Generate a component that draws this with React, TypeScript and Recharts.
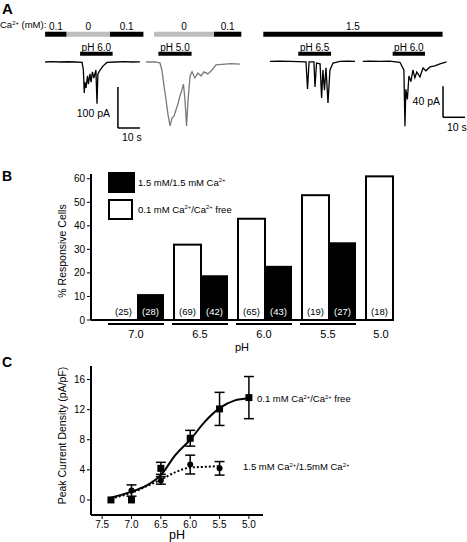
import React from "react"
import {
  LineChart,
  Line,
  XAxis,
  YAxis,
  ReferenceArea,
  ReferenceLine,
  BarChart,
  Bar,
  Legend,
  ComposedChart,
  Scatter,
  ErrorBar,
} from "recharts"

const FONT = '"Liberation Sans", Arial, sans-serif'

// ---------- A: example currents (time in s, current in pA) ----------
const traceLowCa60 = [
  [20.5, 0], [24, 0.8], [27.3, 0], [31, 0.6], [34.1, 0], [37.3, -1], [37.9, -19.5], [38.3, -75.6],
  [38.6, -48.8], [39.1, -63], [39.8, -34], [40.2, -54], [40.9, -29], [41.4, -49], [42.0, -24],
  [42.7, -39], [43.6, -19.5], [44.1, -102], [44.5, -29], [45.5, -19.5], [46.8, -10], [48.6, -1],
  [52.3, 0], [56.8, 0.8], [60, 0], [63.6, 0.5],
]
const traceLowCa50 = [
  [66.4, 0], [70.5, 0.5], [72.7, -2], [73.6, -19.5], [74.5, -56], [75.5, -93], [76.4, -129],
  [77.3, -156], [78.2, -137], [79.1, -132], [80, -117], [80.9, -102], [81.8, -83], [82.7, -68],
  [83.4, -54], [84.1, -93], [84.8, -156], [85.5, -93], [86.4, -34], [87.3, -24], [88.6, -39],
  [90, -27], [91.4, -34], [92.7, -24], [94.5, -29], [96.4, -19.5], [98.2, -7], [102.3, -5],
  [105, -4], [109.1, -5],
]
const traceCa65 = [
  [122.7, 0], [127, 0.5], [131.8, 0], [139.1, -0.5], [139.8, -35.5], [140.5, -0.6], [142.7, -0.6],
  [143.2, -33], [143.9, -2], [145.5, -3], [146.2, -47], [146.8, -11], [147.5, -37], [148.2, -8],
  [149.1, -53.5], [150, -11], [151.4, -2], [154.5, 0], [158, 0.5], [161.4, 0],
]
const traceCa60 = [
  [164.9, 0], [168, 0.5], [172.7, 0], [177, 0.4], [181.8, -1], [183.6, -11], [184.1, -83.5],
  [184.5, -36], [185.2, -49], [185.9, -18.7], [186.8, -26], [187.7, -11], [188.6, -21],
  [189.5, -13.5], [190.9, -20], [192.3, -8.4], [193.6, -12], [195.5, -7], [197.7, -5.8],
  [200, -3.2], [203, -0.6],
]
const caSteps = [
  { from: 20.5, to: 30.3, level: 0.1 },
  { from: 30.3, to: 50, level: 0 },
  { from: 50, to: 65.2, level: 0.1 },
  { from: 70, to: 97.3, level: 0 },
  { from: 97.3, to: 109.7, level: 0.1 },
  { from: 119.7, to: 201.2, level: 1.5 },
]
const phPulses = [
  { from: 36.4, to: 51.2, ph: 6.0 },
  { from: 72, to: 87.1, ph: 5.0 },
  { from: 135.6, to: 150.5, ph: 6.5 },
  { from: 178.5, to: 193.2, ph: 6.0 },
]

// ---------- B: % responsive cells ----------
const phGroups = ["7.0", "6.5", "6.0", "5.5", "5.0"]
const pctFree = [0, 32, 43, 53, 61]
const pctCa = [11, 19, 23, 33, null]
const nFree = [25, 69, 65, 19, 18]
const nCa = [28, 42, 43, 27, null]
const pctTicks = [0, 10, 20, 30, 40, 50, 60]

// ---------- C: peak current density ----------
const phFree = [7.35, 7.0, 6.5, 6.0, 5.5, 5.0]
const densFree = [0, 0, 4.2, 8.2, 12.1, 13.6]
const semFree = [0, 0, 0.8, 1.05, 2.2, 2.8]
const phCa = [7.35, 7.0, 6.5, 6.0, 5.5]
const densCa = [0, 1.25, 2.6, 4.7, 4.2]
const semCa = [0, 0.75, 0.5, 1.25, 0.9]
const fitPh = [7.35, 7.0, 6.75, 6.5, 6.25, 6.0, 5.75, 5.5, 5.25, 5.0]
const fitFree = [0.3, 1.1, 1.9, 3.3, 6.0, 8.0, 10.4, 12.2, 13.2, 13.5]
const fitCa = [0.2, 0.95, 1.8, 2.7, 3.7, 4.3, 4.4, 4.5]
const densTicks = [0, 4, 8, 12, 16]
const phTicks = [7.5, 7.0, 6.5, 6.0, 5.5, 5.0]

const toPts = (a: number[][]) => a.map(([t, i]) => ({ t, i }))
const barRows = phGroups.map((ph, k) => ({ ph, free: pctFree[k], ca: pctCa[k], nFree: nFree[k], nCa: nCa[k] }))
const freeRows = phFree.map((ph, k) => ({ ph, y: densFree[k], err: semFree[k] }))
const caRows = phCa.map((ph, k) => ({ ph, y: densCa[k], err: semCa[k] }))
const fitFreeRows = fitFree.map((y, k) => ({ ph: fitPh[k], y }))
const fitCaRows = fitCa.map((y, k) => ({ ph: fitPh[k], y }))

const Sup = ({ children }: any) => (
  <span style={{ fontSize: "0.62em", verticalAlign: "0.6em", lineHeight: 0 }}>{children}</span>
)

const Txt = ({ x, y, size = 10, anchor = "start", bold = false, children }: any) => {
  const tx = anchor === "middle" ? "-50%" : anchor === "end" ? "-100%" : "0"
  return (
    <div
      style={{
        position: "absolute",
        left: x,
        top: y,
        transform: `translate(${tx}, -50%)`,
        fontSize: size,
        fontWeight: bold ? 700 : 400,
        whiteSpace: "nowrap",
        lineHeight: 1,
      }}
    >
      {children}
    </div>
  )
}

const sideLabel = (text: string, x: number, size: number, dy = 0) => (props: any) => {
  const vb = props.viewBox || {}
  const cy = vb.y + vb.height / 2 + dy
  return (
    <text x={x} y={cy} transform={`rotate(-90 ${x} ${cy})`} textAnchor="middle" dominantBaseline="central" fontSize={size} fontFamily={FONT} fill="#000">
      {text}
    </text>
  )
}

const bottomLabel = (text: string, dy: number, size: number) => (props: any) => {
  const vb = props.viewBox || {}
  return (
    <text x={vb.x + vb.width / 2} y={vb.y + dy} textAnchor="middle" dominantBaseline="central" fontSize={size} fontFamily={FONT} fill="#000">
      {text}
    </text>
  )
}

const scaleLeft = { t: 53.6, i: -161, dt: 10, di: 100 }
const scaleRight = { t: 201.4, i: -72, dt: 10, di: 40 }

function PanelA() {
  const bar = (s: any, axis: string) => [
    <ReferenceLine key={axis + "v"} yAxisId={axis} segment={[{ x: s.t, y: s.i + s.di }, { x: s.t, y: s.i }]} stroke="#000" strokeWidth={1.5} />,
    <ReferenceLine key={axis + "h"} yAxisId={axis} segment={[{ x: s.t, y: s.i }, { x: s.t + s.dt, y: s.i }]} stroke="#000" strokeWidth={1.5} />,
  ]
  const trace = (pts: number[][], axis: string, color: string) => (
    <Line
      yAxisId={axis}
      data={toPts(pts)}
      dataKey="i"
      type="linear"
      dot={false}
      activeDot={false}
      stroke={color}
      strokeWidth={1.3}
      isAnimationActive={false}
    />
  )
  return (
    <div style={{ position: "absolute", left: 0, top: 0, width: 467, height: 150 }}>
      <LineChart width={467} height={150} margin={{ top: 0, right: 0, bottom: 0, left: 0 }}>
        <XAxis type="number" dataKey="t" domain={[0, 212.3]} hide allowDataOverflow />
        <YAxis yAxisId="L" type="number" domain={[-214.7, 151.3]} hide allowDataOverflow />
        <YAxis yAxisId="R" type="number" domain={[-114.2, 79.3]} hide allowDataOverflow />
        {caSteps.map((s, k) => (
          <ReferenceArea
            key={"ca" + k}
            yAxisId="L"
            x1={s.from}
            x2={s.to}
            y1={61.7}
            y2={73.9}
            fill={s.level === 0 ? "#bdbdbd" : "#000"}
            fillOpacity={1}
            stroke="none"
            label={{ value: String(s.level), position: "top", offset: 2, fontSize: 10, fill: "#000", fontFamily: FONT }}
          />
        ))}
        {phPulses.map((p, k) => (
          <ReferenceArea
            key={"ph" + k}
            yAxisId="L"
            x1={p.from}
            x2={p.to}
            y1={15.4}
            y2={25.1}
            fill="#000"
            fillOpacity={1}
            stroke="none"
            label={{ value: `pH ${p.ph.toFixed(1)}`, position: "top", offset: 1, fontSize: 10, fill: "#000", fontFamily: FONT }}
          />
        ))}
        {trace(traceLowCa60, "L", "#000")}
        {trace(traceLowCa50, "L", "#7a7a7a")}
        {trace(traceCa65, "R", "#000")}
        {trace(traceCa60, "R", "#000")}
        {bar(scaleLeft, "L")}
        {bar(scaleRight, "R")}
      </LineChart>
      <Txt x={2} y={8} size={15} bold>A</Txt>
      <Txt x={0} y={25} size={9.5}>Ca<Sup>2+</Sup> (mM):</Txt>
      <Txt x={110} y={113} size={10.5} anchor="end">100 pA</Txt>
      <Txt x={122} y={137} size={10.5}>10 s</Txt>
      <Txt x={440} y={101} size={10.5} anchor="end">40 pA</Txt>
      <Txt x={447} y={127} size={10.5}>10 s</Txt>
    </div>
  )
}

// bar with its cell count written at the foot, also for an empty (0 %) bar
const countBar = (textColor: string, countKey: string) => (props: any) => {
  const { x, y, width, height, fill, stroke, strokeWidth, payload } = props
  const n = payload ? payload[countKey] : null
  return (
    <g>
      {height > 0 && <rect x={x} y={y} width={width} height={height} fill={fill} stroke={stroke} strokeWidth={strokeWidth} />}
      {n != null && (
        <text x={x + width / 2} y={y + height - 5} textAnchor="middle" fontSize={9.5} fill={textColor} fontFamily={FONT}>
          ({n})
        </text>
      )}
    </g>
  )
}

const GroupTick = (props: any) => {
  const { x, y, payload, index } = props
  const paired = pctCa[index] != null
  return (
    <g>
      {paired && <line x1={x - 29} x2={x + 27} y1={y + 4} y2={y + 4} stroke="#000" strokeWidth={2} />}
      <text x={paired ? x - 1 : x - 12} y={y + 14} textAnchor="middle" dominantBaseline="central" fontSize={11} fontFamily={FONT} fill="#000">
        {payload.value}
      </text>
    </g>
  )
}

const BarLegend = () => (
  <div style={{ fontFamily: FONT, fontSize: 9.5, lineHeight: 1, color: "#000" }}>
    <div style={{ display: "flex", alignItems: "center", height: 21, marginBottom: 6 }}>
      <div style={{ width: 27, height: 21, background: "#000" }} />
      <span style={{ marginLeft: 3 }}>1.5 mM/1.5 mM Ca<Sup>2+</Sup></span>
    </div>
    <div style={{ display: "flex", alignItems: "center", height: 21 }}>
      <div style={{ width: 25, height: 21, boxSizing: "border-box", border: "2px solid #000", background: "#fff" }} />
      <span style={{ marginLeft: 5 }}>0.1 mM Ca<Sup>2+</Sup>/Ca<Sup>2+</Sup> free</span>
    </div>
  </div>
)

function PanelB() {
  return (
    <div style={{ position: "absolute", left: 0, top: 160, width: 467, height: 200 }}>
      <BarChart width={467} height={200} data={barRows} margin={{ top: 14, right: 74, bottom: 0, left: 0 }} barCategoryGap={5} barGap={0}>
        <XAxis
          dataKey="ph"
          height={40}
          padding={{ left: 14, right: -32 }}
          interval={0}
          tickLine={false}
          tickSize={0}
          tickMargin={0}
          axisLine={{ stroke: "#000", strokeWidth: 2 }}
          tick={<GroupTick />}
          label={{ content: bottomLabel("pH", 27, 11) }}
        />
        <YAxis
          width={91}
          domain={[0, 62]}
          ticks={pctTicks}
          tick={{ fontSize: 10, fill: "#000", fontFamily: FONT }}
          tickSize={4}
          tickMargin={2}
          axisLine={{ stroke: "#000", strokeWidth: 2 }}
          tickLine={{ stroke: "#000" }}
          label={{ content: sideLabel("% Responsive Cells", 62, 10.5, 4) }}
        />
        <Legend layout="vertical" align="center" verticalAlign="middle" wrapperStyle={{ left: 108, top: 12, width: "auto" }} content={BarLegend} />
        <Bar dataKey="free" fill="#fff" stroke="#000" strokeWidth={2} shape={countBar("#000", "nFree")} isAnimationActive={false} />
        <Bar dataKey="ca" fill="#000" shape={countBar("#fff", "nCa")} isAnimationActive={false} />
      </BarChart>
      <Txt x={2} y={16} size={14} bold>B</Txt>
    </div>
  )
}

const Square = (p: any) => <rect x={p.cx - 3.5} y={p.cy - 3.5} width={7} height={7} fill="#000" />
const Dot = (p: any) => <circle cx={p.cx} cy={p.cy} r={3} fill="#000" />

function PanelC() {
  return (
    <div style={{ position: "absolute", left: 0, top: 345, width: 467, height: 197 }}>
      <ComposedChart width={467} height={197} margin={{ top: 21, right: 204, bottom: 0, left: 0 }}>
        <XAxis
          type="number"
          dataKey="ph"
          height={27}
          domain={[4.76, 7.69]}
          reversed
          allowDataOverflow
          ticks={phTicks}
          tickFormatter={(v: number) => v.toFixed(1)}
          tick={{ fontSize: 10, fill: "#000", fontFamily: FONT }}
          tickSize={4}
          tickMargin={2}
          axisLine={{ stroke: "#000", strokeWidth: 2 }}
          tickLine={{ stroke: "#000" }}
          label={{ content: bottomLabel("pH", 19.5, 12.5) }}
        />
        <YAxis
          type="number"
          width={91}
          domain={[-2, 17.8]}
          allowDataOverflow
          ticks={densTicks}
          tick={{ fontSize: 10, fill: "#000", fontFamily: FONT }}
          tickSize={4}
          tickMargin={2}
          axisLine={{ stroke: "#000", strokeWidth: 2 }}
          tickLine={{ stroke: "#000" }}
          label={{ content: sideLabel("Peak Current Density (pA/pF)", 62, 10.5, -5) }}
        />
        <Line data={fitFreeRows} dataKey="y" type="monotone" dot={false} activeDot={false} stroke="#000" strokeWidth={2} isAnimationActive={false} />
        <Line data={fitCaRows} dataKey="y" type="monotone" dot={false} activeDot={false} stroke="#000" strokeWidth={2} strokeDasharray="2 2" isAnimationActive={false} />
        <Scatter data={freeRows} dataKey="y" shape={Square} isAnimationActive={false}>
          <ErrorBar dataKey="err" direction="y" width={5} stroke="#000" strokeWidth={1.5} isAnimationActive={false} />
        </Scatter>
        <Scatter data={caRows} dataKey="y" shape={Dot} isAnimationActive={false}>
          <ErrorBar dataKey="err" direction="y" width={5} stroke="#000" strokeWidth={1.5} isAnimationActive={false} />
        </Scatter>
      </ComposedChart>
      <Txt x={2} y={17} size={14} bold>C</Txt>
      <Txt x={257} y={54} size={9.5}>0.1 mM Ca<Sup>2+</Sup>/Ca<Sup>2+</Sup> free</Txt>
      <Txt x={243} y={122} size={9.5}>1.5 mM Ca<Sup>2+</Sup>/1.5mM Ca<Sup>2+</Sup></Txt>
    </div>
  )
}

export default function App() {
  return (
    <div style={{ position: "absolute", left: 0, top: 0, width: 467, height: 542, background: "#fff", fontFamily: FONT, color: "#000", overflow: "hidden" }}>
      <PanelA />
      <PanelB />
      <PanelC />
    </div>
  )
}
